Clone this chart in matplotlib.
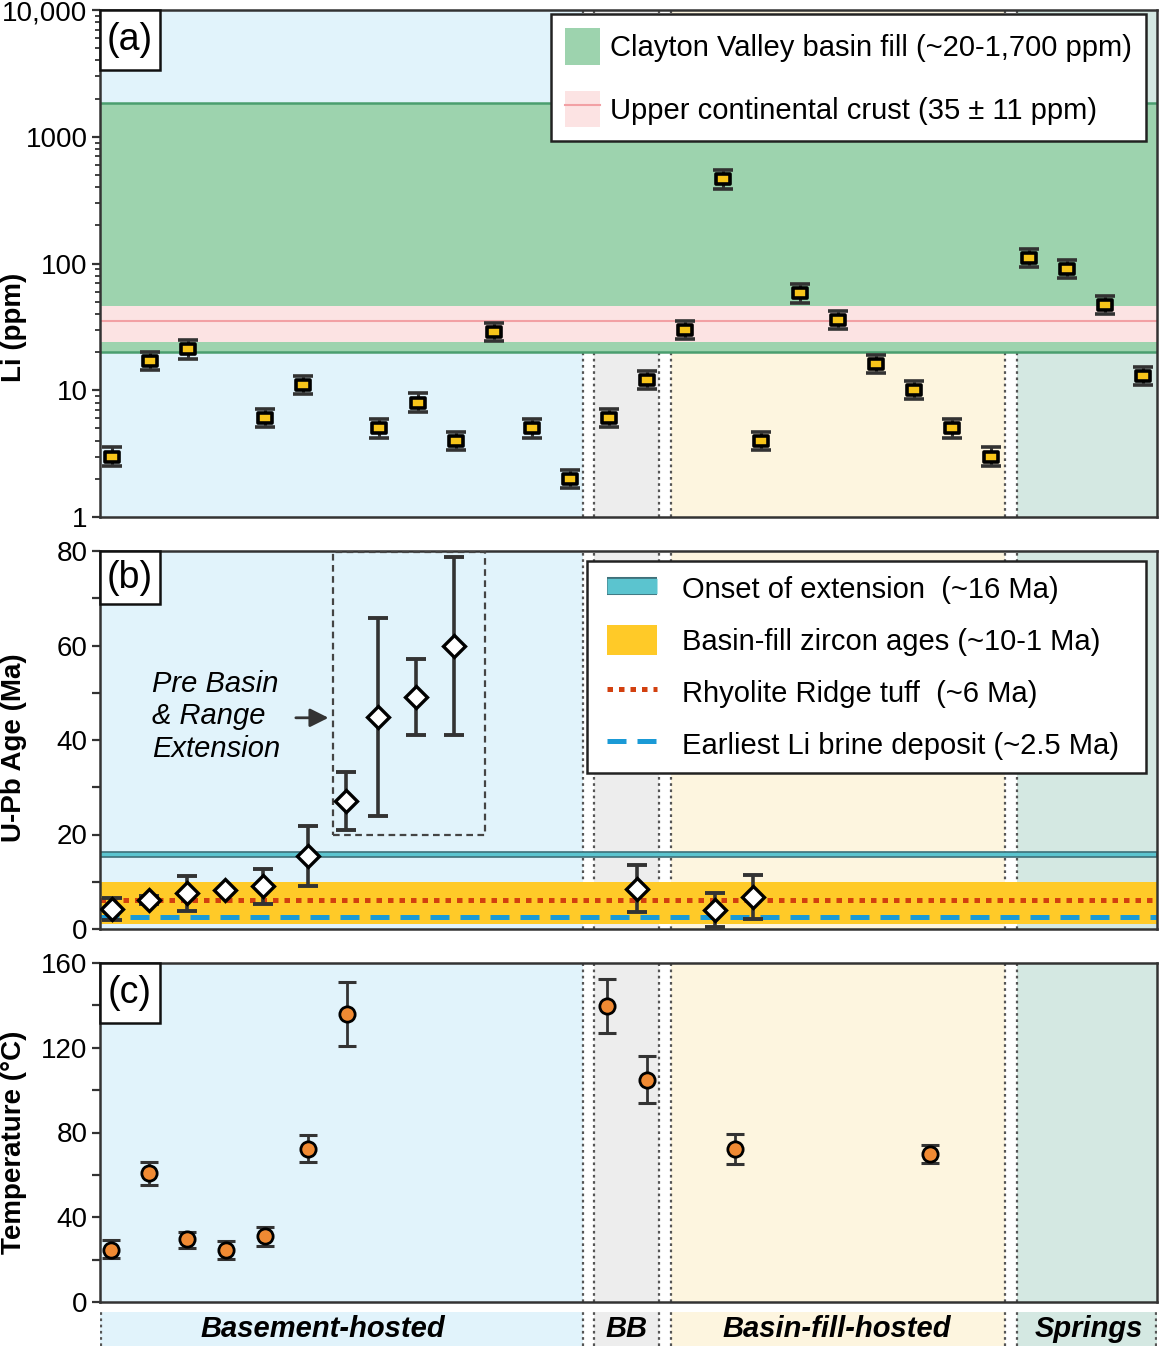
import numpy as np
import matplotlib.pyplot as plt
from matplotlib.patches import Patch, Rectangle
from matplotlib.lines import Line2D
from matplotlib.path import Path
import matplotlib.patheffects as pe
from matplotlib.ticker import FixedLocator, NullFormatter

plt.rcParams['font.family'] = ['Liberation Sans', 'DejaVu Sans']

# ---- data ----
# (a) Li (ppm) per sample slot, None = no value
li_ppm = [3, 17, 21, None, 6, 11, None, 5, 8, 4, 29, 5, 2,
          6, 12,
          30, 460, 4, 58, 36, 16, 10, 5, 3,
          110, 90, 47, 13]
li_err_factor = 1.18
basin_fill_li = (20, 1850)
ucc_li = (35, 24, 46)

# (b) zircon U-Pb ages (Ma)
age_x = [0, 0.97, 1.96, 2.96, 3.95, 5.13, 6.13, 6.96, 7.96, 8.95, 13.74, 15.79, 16.78]
age_ma = [4.2, 6.1, 7.6, 8.25, 9.1, 15.4, 27.1, 44.9, 49.1, 59.9, 8.5, 4.0, 6.8]
age_lo = [1.9, 5.2, 3.9, 8.25, 5.2, 9.1, 21.0, 23.9, 41.1, 41.1, 3.6, 0.4, 2.1]
age_hi = [6.6, 7.0, 11.3, 8.25, 12.8, 21.8, 33.2, 65.8, 57.1, 78.7, 13.5, 7.6, 11.4]
onset_ext = (15.2, 16.2)
zircon_band = (1.0, 10.0)
rhyolite_tuff = 6.2
li_brine = 2.5

# (c) temperatures (C)
temp_x = [-0.03, 0.96, 1.96, 2.98, 4.0, 5.13, 6.15, 12.96, 14.0, 16.31, 21.41]
temp_c = [24.7, 60.7, 29.5, 24.4, 31.1, 72.2, 135.9, 139.8, 104.8, 72.2, 69.7]
temp_lo = [20.8, 55.2, 25.7, 20.5, 26.3, 65.9, 120.9, 126.9, 93.8, 65.1, 65.4]
temp_hi = [29.2, 66.2, 33.1, 28.7, 35.5, 78.8, 151.0, 152.4, 115.9, 79.3, 73.9]

# sample groups
zone_names = ['Basement-hosted', 'BB', 'Basin-fill-hosted', 'Springs']
zone_colors = ['#e1f3fb', '#ededed', '#fdf5df', '#d4e8e2']
zone_spans = [(-0.4, 12.33), (12.62, 14.32), (14.63, 23.38), (23.69, 27.5)]
zone_lines = [12.33, 12.62, 14.32, 14.63, 23.38, 23.69]
zone_label_x = [5.52, 13.46, 18.98, 25.57]

XLIM = (-0.314, 27.356)
DARK = '#333333'
FS = 21
YL_FS = 20
YL_X = -0.069

fig = plt.figure(figsize=(11.59, 13.46), dpi=100)
L, W = 100 / 1159, 1057 / 1159
ax_a = fig.add_axes([L, 1 - 517 / 1346, W, 507 / 1346])
ax_b = fig.add_axes([L, 1 - 929 / 1346, W, 378 / 1346])
ax_c = fig.add_axes([L, 1 - 1302 / 1346, W, 339 / 1346])
ax_s = fig.add_axes([L, 0, W, 34 / 1346])


def zones(ax):
    for (x0, x1), col in zip(zone_spans, zone_colors):
        ax.axvspan(x0, x1, color=col, lw=0, zorder=0)
    for x in zone_lines:
        ax.axvline(x, color='#555555', ls=(0, (1.2, 1.6)), lw=1.6, zorder=0.5)


def style(ax, tag, box_h):
    ax.set_xlim(*XLIM)
    for s in ax.spines.values():
        s.set_linewidth(1.8)
        s.set_color(DARK)
    ax.tick_params(axis='x', bottom=False, labelbottom=False)
    ax.tick_params(axis='y', which='major', direction='out', length=6, width=1.6,
                   color=DARK, labelsize=20, pad=3)
    ax.tick_params(axis='y', which='minor', direction='out', length=3.5, width=1.3, color=DARK)
    ax.add_patch(Rectangle((0, 1 - box_h), 60 / 1057, box_h, transform=ax.transAxes,
                           fc='white', ec='#111111', lw=1.8, zorder=10, clip_on=False))
    ax.text(30 / 1057, 1 - box_h / 2, tag, transform=ax.transAxes, ha='center', va='center',
            fontsize=27, zorder=11)


eb_kw = dict(ls='none', ecolor=DARK, zorder=5)

# ---- (a) ----
zones(ax_a)
ax_a.axhspan(*basin_fill_li, fc='#9dd3ae', ec='none', zorder=1)
for v in basin_fill_li:
    ax_a.axhline(v, color='#4a9e6f', lw=1.8, zorder=1.2)
ax_a.axhspan(ucc_li[1], ucc_li[2], fc='#fce3e3', ec='none', zorder=1.5)
ax_a.axhline(ucc_li[0], color='#f2a0a4', lw=1.5, zorder=1.6)

li_x = np.array([i for i, v in enumerate(li_ppm) if v is not None], dtype=float)
li_y = np.array([v for v in li_ppm if v is not None], dtype=float)
ax_a.errorbar(li_x, li_y, yerr=[li_y - li_y / li_err_factor, li_y * li_err_factor - li_y],
              capsize=7, elinewidth=2.2, capthick=2.6, **eb_kw)
flat_box = Path([(-0.7, -0.5), (0.7, -0.5), (0.7, 0.5), (-0.7, 0.5), (-0.7, -0.5)],
                [Path.MOVETO, Path.LINETO, Path.LINETO, Path.LINETO, Path.CLOSEPOLY])
ax_a.plot(li_x, li_y, marker=flat_box, ms=9.5, mfc='#f7c41a', mec='black', mew=2.6,
          ls='none', zorder=6)
ax_a.set_yscale('log')
ax_a.set_ylim(1, 10000)
ax_a.yaxis.set_major_locator(FixedLocator([1, 10, 100, 1000, 10000]))
ax_a.set_yticklabels(['1', '10', '100', '1000', '10,000'])
ax_a.yaxis.set_minor_locator(FixedLocator([m * 10 ** d for d in range(4) for m in range(2, 10)]))
ax_a.yaxis.set_minor_formatter(NullFormatter())
ax_a.set_ylabel('Li (ppm)', fontsize=YL_FS, fontweight='bold')
ax_a.yaxis.set_label_coords(YL_X, 0.375)
style(ax_a, '(a)', 60 / 507)

h_a = [Patch(fc='#9dd3ae', ec='none'),
       (Patch(fc='#fce3e3', ec='none'), Line2D([], [], color='#f2a0a4', lw=1.5))]
leg_a = ax_a.legend(h_a, ['Clayton Valley basin fill (~20-1,700 ppm)',
                          'Upper continental crust (35 ± 11 ppm)'],
                    loc='upper right', bbox_to_anchor=(1046 / 1057, 1 - 4 / 507),
                    borderaxespad=0, fontsize=FS, fancybox=False, framealpha=1,
                    edgecolor='#222222', handlelength=1.2, handleheight=1.57,
                    labelspacing=0.88, handletextpad=0.34, borderpad=0.48)
leg_a.get_frame().set_linewidth(1.8)
leg_a.set_zorder(12)

# ---- (b) ----
zones(ax_b)
ax_b.axhspan(*zircon_band, fc='#ffca28', ec='none', zorder=1)
ax_b.axhspan(*onset_ext, fc='#5bc4cf', ec='#3f7079', lw=1.2, zorder=1.5)
ax_b.axhline(rhyolite_tuff, color='#d2400f', lw=3.6, ls=(0, (1.1, 1.2)),
             dash_capstyle='butt', zorder=2)
ax_b.axhline(li_brine, color='#1a9ad6', lw=3.6, ls=(0, (3.8, 2.2)),
             dash_capstyle='butt', zorder=2)
ax_b.add_patch(Rectangle((5.79, 20), 9.76 - 5.79, 79.8 - 20, fc='none', ec='#444444',
                         lw=1.6, ls=(0, (3, 2)), zorder=3))
ax_b.annotate('', xy=(5.74, 44.7), xytext=(4.74, 44.7),
              arrowprops=dict(arrowstyle='-|>', color=DARK, lw=2, mutation_scale=28), zorder=4)
ax_b.text(1.05, 45.0, 'Pre Basin\n& Range\nExtension', fontsize=FS, fontstyle='italic',
          ha='left', va='center', linespacing=1.2, zorder=4)

ax_, am = np.array(age_x), np.array(age_ma)
ax_b.errorbar(ax_, am, yerr=[am - np.array(age_lo), np.array(age_hi) - am],
              capsize=7.5, elinewidth=2.6, capthick=2.8, **eb_kw)
ax_b.plot(ax_, am, 'D', ms=11, mfc='white', mec='black', mew=2.4, ls='none', zorder=6)
ax_b.set_ylim(0, 80)
ax_b.set_yticks(range(0, 81, 10))
ax_b.set_yticklabels(['0', '', '20', '', '40', '', '60', '', '80'])
ax_b.set_ylabel('U-Pb Age (Ma)', fontsize=YL_FS, fontweight='bold')
ax_b.yaxis.set_label_coords(YL_X, 0.48)
style(ax_b, '(b)', 53 / 378)

# legend (b): frame drawn separately so it can be wider than its content
ax_b.add_patch(Rectangle((487 / 1057, 1 - 222 / 378), 559 / 1057, 212 / 378,
                         transform=ax_b.transAxes, fc='white', ec='#222222', lw=1.8,
                         zorder=11.5))
cyan_h = Line2D([], [], color='#5bc4cf', lw=11, solid_capstyle='butt',
                path_effects=[pe.Stroke(linewidth=13, foreground='#3f7079'), pe.Normal()])
h_b = [cyan_h, Patch(fc='#ffca28', ec='none'),
       Line2D([], [], color='#d2400f', lw=3.6, ls=(0, (1.1, 1.2)), dash_capstyle='butt'),
       Line2D([], [], color='#1a9ad6', lw=3.6, ls=(0, (3.8, 2.2)), dash_capstyle='butt')]
leg_b = ax_b.legend(h_b, ['Onset of extension  (~16 Ma)',
                          'Basin-fill zircon ages (~10-1 Ma)',
                          'Rhyolite Ridge tuff  (~6 Ma)',
                          'Earliest Li brine deposit (~2.5 Ma)'],
                    loc='upper left', bbox_to_anchor=(495 / 1057, 1 - 10 / 378),
                    borderaxespad=0, fontsize=FS, frameon=False,
                    handlelength=1.71, handleheight=1.21,
                    labelspacing=0.72, handletextpad=0.86, borderpad=0.42)
leg_b.set_zorder(12)

# ---- (c) ----
zones(ax_c)
tx, tc = np.array(temp_x), np.array(temp_c)
ax_c.errorbar(tx, tc, yerr=[tc - np.array(temp_lo), np.array(temp_hi) - tc],
              capsize=6.5, elinewidth=2, capthick=2.2, **eb_kw)
ax_c.plot(tx, tc, 'o', ms=11, mfc='#f08a33', mec='black', mew=2, ls='none', zorder=6)
ax_c.set_ylim(0, 160)
ax_c.set_yticks(range(0, 161, 20))
ax_c.set_yticklabels(['0', '', '40', '', '80', '', '120', '', '160'])
ax_c.set_ylabel('Temperature (°C)', fontsize=YL_FS, fontweight='bold')
ax_c.yaxis.set_label_coords(YL_X, 0.47)
style(ax_c, '(c)', 60 / 339)

# ---- group strip ----
zones(ax_s)
ax_s.axvline(XLIM[0] + 0.02, color='#555555', ls=(0, (1.2, 1.6)), lw=1.6)
ax_s.axvline(XLIM[1] - 0.02, color='#555555', ls=(0, (1.2, 1.6)), lw=1.6)
ax_s.set_xlim(*XLIM)
ax_s.set_ylim(0, 1)
ax_s.axis('off')
for name, x in zip(zone_names, zone_label_x):
    ax_s.text(x, 0.5, name, ha='center', va='center', fontsize=FS,
              fontweight='bold', fontstyle='italic')

fig.savefig('out.png', dpi=100)
